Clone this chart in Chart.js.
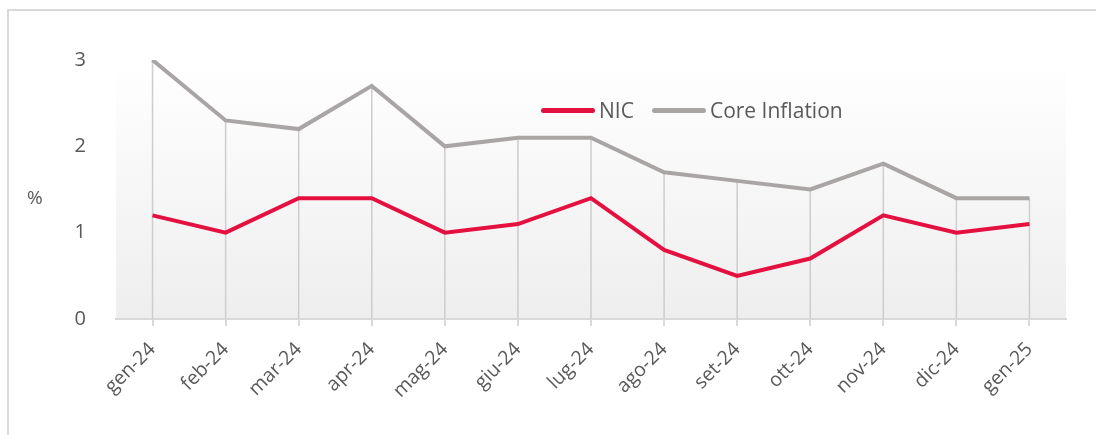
<!DOCTYPE html>
<html>
<head>
<meta charset="utf-8">
<script src="https://cdn.jsdelivr.net/npm/chart.js@4"></script>
<style>
    body { margin: 0; background: #fff; }
    #wrap { position: relative; width: 1096px; height: 435px; overflow: hidden; }
    #frame { position: absolute; left: 7px; top: 9px; width: 1200px; height: 500px; border: 2px solid #d9d9d9; box-sizing: border-box; }
    canvas { position: absolute; left: 0; top: 0; }
    #unit { position: absolute; left: 27px; top: 184px; font: 19px "Open Sans", sans-serif; color: #595959; }
    #legend { position: absolute; left: 541px; top: 96px; font: 21px "Open Sans", sans-serif; color: #595959; display: flex; align-items: center; }
    #legend .sw { display: inline-block; width: 54px; height: 5px; border-radius: 3px; margin-right: 4px; }
</style>
</head>
<body>
<div id="wrap">
    <div id="frame"></div>
    <canvas id="chart" width="1096" height="435"></canvas>
    <div id="unit">%</div>
    <div id="legend">
        <span class="sw" style="background:#e4103f"></span><span>NIC</span>
        <span class="sw" style="background:#a9a5a5;margin-left:18px"></span><span>Core Inflation</span>
    </div>
</div>
<script>
// months and values (%)
const months = ['gen-24', 'feb-24', 'mar-24', 'apr-24', 'mag-24', 'giu-24', 'lug-24', 'ago-24', 'set-24', 'ott-24', 'nov-24', 'dic-24', 'gen-25'];
const nic = [1.2, 1.0, 1.4, 1.4, 1.0, 1.1, 1.4, 0.8, 0.5, 0.7, 1.2, 1.0, 1.1];
const coreInflation = [3.0, 2.3, 2.2, 2.7, 2.0, 2.1, 2.1, 1.7, 1.6, 1.5, 1.8, 1.4, 1.4];
const yTicks = [0, 1, 2, 3];

// plot area background gradient
const bgPlugin = {
    id: 'bg',
    beforeDraw(chart) {
        const { ctx, chartArea: a } = chart;
        const g = ctx.createLinearGradient(0, a.top, 0, a.bottom);
        g.addColorStop(0, '#ffffff');
        g.addColorStop(1, '#eeeeee');
        ctx.save();
        ctx.fillStyle = g;
        ctx.fillRect(a.left, a.top, a.right - a.left, a.bottom - a.top);
        ctx.restore();
    }
};

// vertical drop lines from the core inflation points
const dropLines = {
    id: 'dropLines',
    beforeDatasetsDraw(chart) {
        const { ctx, chartArea: a } = chart;
        const meta = chart.getDatasetMeta(1);
        ctx.save();
        ctx.strokeStyle = '#cdcdcd';
        ctx.lineWidth = 1.5;
        meta.data.forEach(p => {
            ctx.beginPath();
            ctx.moveTo(p.x, p.y);
            ctx.lineTo(p.x, a.bottom);
            ctx.stroke();
        });
        ctx.restore();
    }
};

new Chart(document.getElementById('chart'), {
    type: 'line',
    data: {
        labels: months,
        datasets: [
            { label: 'NIC', data: nic, borderColor: '#e4103f', borderWidth: 4, pointRadius: 0, tension: 0 },
            { label: 'Core Inflation', data: coreInflation, borderColor: '#a9a5a5', borderWidth: 4, pointRadius: 0, tension: 0 }
        ]
    },
    options: {
        responsive: false,
        animation: false,
        layout: { padding: { top: 60, right: 30, left: 0, bottom: 0 } },
        plugins: { legend: { display: false }, tooltip: { enabled: false } },
        scales: {
            x: {
                offset: true,
                grid: { drawOnChartArea: false, drawTicks: true, tickLength: 7, color: '#d9d9d9', lineWidth: 2 },
                border: { color: '#d9d9d9', width: 2 },
                ticks: { minRotation: 45, maxRotation: 45, color: '#595959', font: { family: 'Open Sans', size: 19.5 }, padding: 12 },
                afterFit(scale) { scale.height = 116; }
            },
            y: {
                min: 0,
                max: 3,
                afterBuildTicks(scale) { scale.ticks = yTicks.map(v => ({ value: v })); },
                grid: { display: false },
                border: { display: false },
                ticks: { color: '#595959', font: { family: 'Open Sans', size: 20 }, padding: 22 },
                afterFit(scale) { scale.width = 116; }
            }
        }
    },
    plugins: [bgPlugin, dropLines]
});
</script>
</body>
</html>
